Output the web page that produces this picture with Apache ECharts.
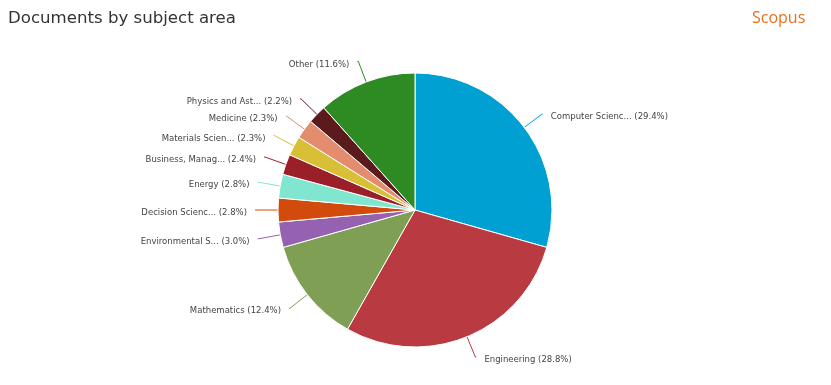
<!DOCTYPE html>
<html lang="en" style="height: 100%">
<head>
  <meta charset="utf-8">
</head>
<body style="height: 100%; margin: 0; background: #fff">
  <div id="container" style="width: 831px; height: 385px"></div>
  <script type="text/javascript" src="https://fastly.jsdelivr.net/npm/echarts@6/dist/echarts.min.js"></script>
  <script type="text/javascript">
    const subjects = [
      'Computer Scienc...', 'Engineering', 'Mathematics', 'Environmental S...',
      'Decision Scienc...', 'Energy', 'Business, Manag...', 'Materials Scien...',
      'Medicine', 'Physics and Ast...', 'Other'
    ];
    const shares = [29.4, 28.8, 12.4, 3.0, 2.8, 2.8, 2.4, 2.3, 2.3, 2.2, 11.6];
    const colors = [
      '#00a0d2', '#b93a40', '#7e9f54', '#9462b0', '#d24b0c', '#80e6d0',
      '#9b1f28', '#d8bf35', '#e48c6e', '#5b1a1c', '#2e8a23'
    ];

    var dom = document.getElementById('container');
    var myChart = echarts.init(dom, null, { renderer: 'canvas' });

    var option = {
      animation: false,
      title: [
        {
          text: 'Documents by subject area',
          left: 3,
          top: 5,
          textStyle: { fontFamily: 'DejaVu Sans', fontSize: 16.6, fontWeight: 'normal', color: '#333' }
        },
        {
          text: 'Scopus',
          left: 747,
          top: 5,
          textStyle: { fontFamily: 'Open Sans', fontSize: 16, fontWeight: 'normal', color: '#e8701d' }
        }
      ],
      series: [
        {
          type: 'pie',
          center: [415, 210],
          radius: 137,
          startAngle: 90,
          clockwise: true,
          avoidLabelOverlap: false,
          itemStyle: { borderColor: '#fff', borderWidth: 1 },
          label: {
            show: true,
            fontFamily: 'DejaVu Sans',
            fontSize: 8.5,
            color: '#444',
            distanceToLabelLine: 8,
            offset: [0, 3],
            formatter: function (p) { return p.name + ' (' + p.value.toFixed(1) + '%)'; }
          },
          labelLine: { show: true, length: 22, length2: 1, smooth: false, lineStyle: { width: 1 } },
          data: subjects.map((s, i) => ({ name: s, value: shares[i], itemStyle: { color: colors[i] } }))
        }
      ]
    };

    myChart.setOption(option);
    window.addEventListener('resize', myChart.resize);
  </script>
</body>
</html>
